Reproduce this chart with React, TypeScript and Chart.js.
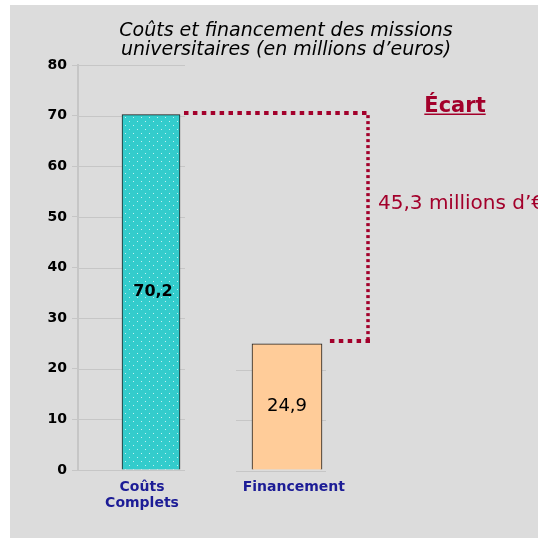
import React, { useEffect, useRef } from "react";
import { Chart, registerables } from "chart.js";

Chart.register(...registerables);

const titleLines = ["Coûts et financement des missions", "universitaires (en millions d’euros)"];
const categories: (string | string[])[] = [["Coûts", "Complets"], "Financement"];
const values = [70.2, 24.9];
const valueLabels = ["70,2", "24,9"];
const yTicks = [0, 10, 20, 30, 40, 50, 60, 70, 80];
const gapTitle = "Écart";
const gapLabel = "45,3 millions d’€";

const FONT = "'DejaVu Sans', Verdana, sans-serif";
const RED = "#A3002B";
const GRID = "#c6c6c6";
// small horizontal nudges of the category labels relative to their bars (in axis units)
const labelNudge = [-0.066, 0.05];

function makePattern(): CanvasPattern | string {
  const c = document.createElement("canvas");
  c.width = 8;
  c.height = 8;
  const g = c.getContext("2d");
  if (!g) return "#33CCCC";
  g.fillStyle = "#33CCCC";
  g.fillRect(0, 0, 8, 8);
  g.fillStyle = "rgba(255,255,255,0.7)";
  g.fillRect(1, 1, 1, 1);
  g.fillRect(5, 5, 1, 1);
  return g.createPattern(c, "repeat") || "#33CCCC";
}

const bgPlugin = {
  id: "bg",
  beforeDraw(chart: any) {
    const ctx = chart.ctx;
    ctx.save();
    ctx.fillStyle = "#ffffff";
    ctx.fillRect(0, 0, chart.width, chart.height);
    ctx.fillStyle = "#DCDCDC";
    ctx.fillRect(10, 5, chart.width - 10, chart.height - 5);
    ctx.fillStyle = "#000";
    ctx.font = `italic 19px ${FONT}`;
    ctx.textAlign = "center";
    ctx.textBaseline = "middle";
    ctx.fillText(titleLines[0], 286, 31);
    ctx.fillText(titleLines[1], 286, 50);
    ctx.restore();
  },
};

const gridPlugin = {
  id: "segGrid",
  beforeDatasetsDraw(chart: any) {
    const ctx = chart.ctx;
    const ys = chart.scales.y;
    const b0 = chart.getDatasetMeta(0).data[0];
    const b1 = chart.getDatasetMeta(1).data[0];
    if (!b0 || !b1) return;
    ctx.save();
    ctx.strokeStyle = GRID;
    ctx.lineWidth = 1;
    yTicks.forEach((v) => {
      const py = Math.round(ys.getPixelForValue(v)) + 0.5;
      ctx.beginPath();
      ctx.moveTo(chart.chartArea.left, py);
      ctx.lineTo(b0.x + b0.width / 2 + 5, py);
      ctx.stroke();
      if (v <= values[1]) {
        ctx.beginPath();
        ctx.moveTo(b1.x - b1.width / 2 - 16, py + 1);
        ctx.lineTo(b1.x + b1.width / 2 + 4, py + 1);
        ctx.stroke();
      }
    });
    ctx.restore();
  },
};

const annotPlugin = {
  id: "annot",
  afterDatasetsDraw(chart: any) {
    const ctx = chart.ctx;
    const b0 = chart.getDatasetMeta(0).data[0];
    const b1 = chart.getDatasetMeta(1).data[0];
    if (!b0 || !b1) return;
    ctx.save();
    ctx.fillStyle = "#000";
    ctx.textAlign = "center";
    ctx.textBaseline = "middle";
    const labelFonts = [`bold 16px ${FONT}`, `18px ${FONT}`];
    [b0, b1].forEach((b: any, i: number) => {
      ctx.font = labelFonts[i];
      ctx.fillText(valueLabels[i], b.x + (i === 0 ? 2 : 0), (b.y + b.base) / 2);
    });

    const topY = b0.y - 1.5;
    const lowY = b1.y - 3;
    const xv = b1.x + b1.width / 2 + 46;
    ctx.strokeStyle = RED;
    ctx.lineCap = "butt";
    ctx.lineWidth = 4;
    ctx.setLineDash([4.5, 4.4]);
    ctx.beginPath();
    ctx.moveTo(b0.x + b0.width / 2 + 4, topY);
    ctx.lineTo(xv + 2, topY);
    ctx.stroke();
    ctx.lineWidth = 3.5;
    ctx.setLineDash([3, 3]);
    ctx.beginPath();
    ctx.moveTo(xv, topY + 2);
    ctx.lineTo(xv, lowY);
    ctx.stroke();
    ctx.lineWidth = 4;
    ctx.setLineDash([4.5, 4.4]);
    ctx.beginPath();
    ctx.moveTo(xv + 2, lowY);
    ctx.lineTo(b1.x + b1.width / 2 + 5, lowY);
    ctx.stroke();
    ctx.setLineDash([]);

    ctx.fillStyle = RED;
    ctx.font = `bold 21px ${FONT}`;
    ctx.textAlign = "center";
    ctx.textBaseline = "alphabetic";
    ctx.fillText(gapTitle, 455, 112);
    const w = ctx.measureText(gapTitle).width;
    ctx.fillRect(455 - w / 2, 113.5, w, 1.5);

    ctx.font = `20px ${FONT}`;
    ctx.textAlign = "left";
    ctx.textBaseline = "middle";
    ctx.fillText(gapLabel, 378, 204);
    ctx.restore();
  },
};

export default function App() {
  const ref = useRef<HTMLCanvasElement | null>(null);

  useEffect(() => {
    if (!ref.current) return;
    const pattern = makePattern();
    const thickness = [58, 70];
    const chart = new Chart(ref.current, {
      type: "bar",
      data: {
        datasets: values.map((v, i) => ({
          data: [{ x: i + 1, y: v }],
          backgroundColor: i === 0 ? pattern : "#FFCC99",
          borderColor: "#1e1e1e",
          borderWidth: 1,
          barThickness: thickness[i],
          grouped: false,
        })),
      } as any,
      options: {
        animation: false,
        responsive: false,
        maintainAspectRatio: false,
        layout: { padding: { top: 65, right: 138, left: 0, bottom: 0 } },
        plugins: {
          legend: { display: false },
          tooltip: { enabled: false },
          title: { display: false },
        },
        scales: {
          x: {
            type: "linear",
            offset: false,
            min: 0.4632,
            max: 2.8309,
            grid: { display: false, drawTicks: false },
            border: { display: false },
            afterBuildTicks: (s: any) => {
              s.ticks = values.map((_, i) => ({ value: i + 1 + labelNudge[i] }));
            },
            afterFit: (s: any) => {
              s.height = 68;
            },
            ticks: {
              autoSkip: false,
              maxRotation: 0,
              minRotation: 0,
              padding: 9,
              color: "#1c1c96",
              font: { family: FONT, size: 14, weight: "bold", lineHeight: 1.15 },
              callback: (_v: any, i: number) => categories[i] as any,
            },
          },
          y: {
            min: 0,
            max: 80,
            afterBuildTicks: (s: any) => {
              s.ticks = yTicks.map((v) => ({ value: v }));
            },
            afterFit: (s: any) => {
              s.width = 78;
            },
            grid: { display: true, drawOnChartArea: false, tickLength: 6, color: GRID, lineWidth: 1 },
            border: { display: true, color: GRID, width: 2 },
            ticks: {
              padding: 5,
              color: "#000",
              font: { family: FONT, size: 14, weight: "bold" },
            },
          },
        },
      } as any,
      plugins: [bgPlugin, gridPlugin, annotPlugin],
    });
    return () => chart.destroy();
  }, []);

  return (
    <div style={{ position: "fixed", left: 0, top: 0, width: 538, height: 538 }}>
      <canvas ref={ref} width={538} height={538} style={{ display: "block" }} />
    </div>
  );
}
